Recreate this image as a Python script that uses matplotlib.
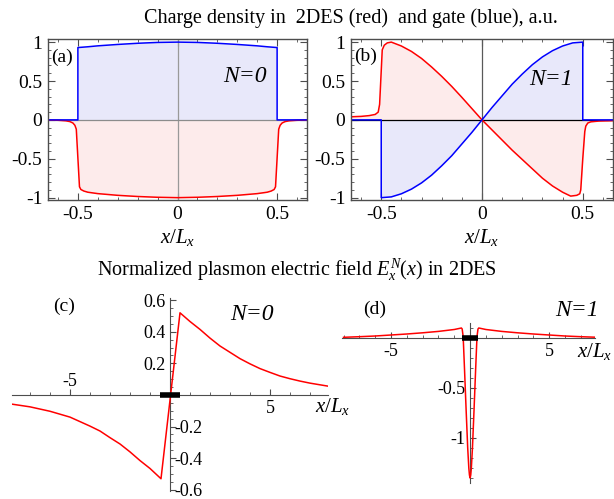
import matplotlib
matplotlib.use("Agg")
import matplotlib.pyplot as plt
from matplotlib.ticker import MultipleLocator
from matplotlib.transforms import blended_transform_factory

plt.rcParams['font.family'] = ['Liberation Serif', 'DejaVu Serif']
plt.rcParams['mathtext.fontset'] = 'custom'
plt.rcParams['mathtext.rm'] = 'Liberation Serif'
plt.rcParams['mathtext.it'] = 'Liberation Serif:italic'
plt.rcParams['axes.unicode_minus'] = False

# ---- panel (a): N=0 charge densities
a_x_gate = [-0.65, -0.5, -0.5, -0.45, -0.4, -0.3, -0.2, -0.1, 0.0,
            0.1, 0.2, 0.3, 0.4, 0.45, 0.5, 0.5, 0.65]
a_gate = [0, 0, 0.93, 0.94, 0.952, 0.97, 0.985, 0.996, 1.0,
          0.996, 0.985, 0.97, 0.952, 0.94, 0.93, 0, 0]
a_x_2des = [-0.65, -0.6, -0.56, -0.54, -0.525, -0.515, -0.508, -0.492, -0.485,
            -0.47, -0.45, -0.4, -0.3, -0.2, -0.1, 0.0,
            0.1, 0.2, 0.3, 0.4, 0.45, 0.47, 0.485, 0.492, 0.508, 0.515,
            0.525, 0.54, 0.56, 0.6, 0.65]
a_2des = [-0.002, -0.005, -0.012, -0.022, -0.04, -0.07, -0.12, -0.86, -0.895,
          -0.915, -0.93, -0.948, -0.97, -0.985, -0.995, -1.0,
          -0.995, -0.985, -0.97, -0.948, -0.93, -0.915, -0.895, -0.86, -0.12, -0.07,
          -0.04, -0.022, -0.012, -0.005, -0.002]

# ---- panel (b): N=1 charge densities
b_x_gate = [-0.65, -0.5, -0.5, -0.45, -0.4, -0.35, -0.3, -0.25, -0.2, -0.15, -0.1, -0.05, 0.0,
            0.05, 0.1, 0.15, 0.2, 0.25, 0.3, 0.35, 0.4, 0.45, 0.5, 0.5, 0.65]
b_gate = [0, 0, -1.0, -0.99, -0.95, -0.89, -0.81, -0.71, -0.59, -0.46, -0.31, -0.16, 0.0,
          0.16, 0.31, 0.46, 0.59, 0.71, 0.81, 0.89, 0.95, 0.99, 1.0, 0, 0]
b_x_2des = [-0.65, -0.6, -0.56, -0.53, -0.515, -0.508, -0.495, -0.485, -0.47, -0.45,
            -0.4, -0.35, -0.3, -0.25, -0.2, -0.15, -0.1, -0.05, 0.0,
            0.05, 0.1, 0.15, 0.2, 0.25, 0.3, 0.35, 0.4, 0.44, 0.47, 0.485, 0.49,
            0.5, 0.51, 0.515, 0.525, 0.54, 0.58, 0.65]
b_2des = [0.04, 0.045, 0.055, 0.07, 0.1, 0.2, 0.9, 0.96, 0.99, 1.0,
          0.95, 0.88, 0.79, 0.68, 0.56, 0.43, 0.29, 0.145, 0.0,
          -0.13, -0.26, -0.39, -0.51, -0.63, -0.75, -0.85, -0.93, -0.98, -0.97, -0.95, -0.9,
          -0.5, -0.15, -0.08, -0.04, -0.025, -0.015, -0.01]

frame_yticks = [-1, -0.5, 0, 0.5, 1]
frame_ylabels = ['-1', '-0.5', '0', '0.5', '1']
frame_xticks = [-0.5, 0, 0.5]
frame_xlabels = ['-0.5', '0', '0.5']

# ---- panel (c): N=0 field
c_x = [-7.9, -7, -6, -5, -4, -3.5, -3, -2.5, -2, -1.5, -1, -0.45,
       0.5, 1, 1.5, 2, 2.5, 3, 3.5, 4, 4.5, 5, 5.5, 6, 6.5, 7, 7.9]
c_field = [-0.058, -0.075, -0.103, -0.14, -0.197, -0.228, -0.27, -0.31, -0.36, -0.415, -0.465, -0.53,
           0.52, 0.465, 0.415, 0.36, 0.31, 0.27, 0.23, 0.197, 0.167, 0.143, 0.12, 0.103, 0.088, 0.075, 0.056]
c_yticks = [-0.6, -0.4, -0.2, 0.2, 0.4, 0.6]
c_ylabels = ['-0.6', '-0.4', '-0.2', '0.2', '0.4', '0.6']

# ---- panel (d): N=1 field
d_x = [-8, -7, -6, -5, -4, -3, -2, -1, -0.55, -0.5, -0.45, -0.42, -0.35, -0.25, -0.15, -0.08, -0.04, 0,
       0.04, 0.08, 0.15, 0.25, 0.35, 0.42, 0.45, 0.5, 0.55, 1, 2, 3, 4, 5, 6, 7, 7.9]
d_field = [0.007, 0.013, 0.02, 0.03, 0.04, 0.052, 0.066, 0.085, 0.1, 0.09, 0.03, -0.05, -0.32, -0.72, -1.1, -1.3, -1.37, -1.4,
           -1.37, -1.3, -1.1, -0.72, -0.32, -0.05, 0.03, 0.09, 0.1, 0.085, 0.066, 0.052, 0.04, 0.03, 0.02, 0.013, 0.008]
d_yticks = [-1, -0.5]
d_ylabels = ['-1', '-0.5']

field_xticks = [-5, 5]
field_xlabels = ['-5', '5']
gate_x = [-0.5, 0.5]
gate_y = [0, 0]

RED = '#ff0000'
BLUE = '#0000ff'
RED_FILL = '#fdebeb'
BLUE_FILL = '#e8e8fa'

fig = plt.figure(figsize=(6.14, 4.99), dpi=100)
W, H = 614, 499


def px_axes(l, t, r, b):
    return fig.add_axes([l / W, 1 - b / H, (r - l) / W, (b - t) / H])


def frame_panel(ax, xg, g, xr, r, vcol, hcol):
    ax.fill_between(xg, g, 0, color=BLUE_FILL, lw=0)
    ax.fill_between(xr, r, 0, color=RED_FILL, lw=0)
    ax.axvline(0, color=vcol, lw=0.9)
    ax.axhline(0, color=hcol, lw=0.9)
    ax.plot(xr, r, color=RED, lw=1.1)
    ax.plot(xg, g, color=BLUE, lw=1.1)
    ax.set_xlim(-0.65, 0.65)
    ax.set_ylim(-1.03, 1.04)
    ax.set_yticks(frame_yticks, frame_ylabels)
    ax.set_xticks(frame_xticks, frame_xlabels)
    ax.xaxis.set_minor_locator(MultipleLocator(0.1))
    ax.yaxis.set_minor_locator(MultipleLocator(0.1))
    ax.tick_params(which='both', direction='in', top=True, right=True,
                   labelsize=14, color='0.3', pad=4)
    ax.tick_params(which='major', length=5, width=0.8)
    ax.tick_params(which='minor', length=2.5, width=0.6)
    for s in ax.spines.values():
        s.set_color('0.3')
        s.set_linewidth(1.0)
    ax.set_xlabel(r'$x/L_x$', fontsize=15, labelpad=3)


ax_a = px_axes(48, 39, 307, 200)
frame_panel(ax_a, a_x_gate, a_gate, a_x_2des, a_2des, '0.6', '0.55')
ax_b = px_axes(351, 39, 613, 200)
frame_panel(ax_b, b_x_gate, b_gate, b_x_2des, b_2des, '0.35', 'black')


def field_panel(ax, x, y, xlim, ylim, yticks, ylabels, ymin_step, y_left_all):
    ax.plot(x, y, color=RED, lw=1.1, zorder=3)
    ax.plot(gate_x, gate_y, color='black', lw=4, solid_capstyle='butt', zorder=4)
    ax.set_xlim(*xlim)
    ax.set_ylim(*ylim)
    for side in ['left', 'right', 'bottom', 'top']:
        ax.spines[side].set_position(('data', 0))
        ax.spines[side].set_color('0.3')
    ax.spines['top'].set_visible(False)
    ax.spines['right'].set_visible(False)
    ax.set_xticks(field_xticks, field_xlabels)
    ax.set_yticks(yticks, ylabels)
    ax.xaxis.set_minor_locator(MultipleLocator(1))
    ax.yaxis.set_minor_locator(MultipleLocator(ymin_step))
    ax.tick_params(which='both', direction='in', top=False, right=False,
                   labelsize=13, color='0.3')
    ax.tick_params(which='major', length=4, width=0.8)
    ax.tick_params(which='minor', length=2.5, width=0.6)
    ax.patch.set_alpha(0)
    if not y_left_all:
        ax.tick_params(labeltop=True, labelright=True)
        for t, v in zip(ax.xaxis.get_major_ticks(), field_xticks):
            t.label1.set_visible(v > 0)
            t.label2.set_visible(v < 0)
        for t, v in zip(ax.yaxis.get_major_ticks(), yticks):
            t.label1.set_visible(v > 0)
            t.label2.set_visible(v < 0)


ax_c = px_axes(12, 297.8, 328, 490.6)
field_panel(ax_c, c_x, c_field, (-7.9, 7.9), (-0.605, 0.615), c_yticks, c_ylabels, 0.05, False)
tr = blended_transform_factory(ax_c.transAxes, ax_c.transData)
ax_c.text(1.015, -0.075, r'$x/L_x$', transform=tr, ha='center', va='center', fontsize=15)

ax_d = px_axes(342, 323, 595, 483)
field_panel(ax_d, d_x, d_field, (-8.1, 7.9), (-1.45, 0.15), d_yticks, d_ylabels, 0.1, True)
tr = blended_transform_factory(ax_d.transAxes, ax_d.transData)
ax_d.text(1.0, -0.14, r'$x/L_x$', transform=tr, ha='center', va='center', fontsize=15)

# texts
fig.text(351 / W, 1 - 18 / H, 'Charge density in  2DES (red)  and gate (blue), a.u.',
         ha='center', va='center', fontsize=14.5)
fig.text(297 / W, 1 - 270 / H, r'Normalized plasmon electric field $\mathit{E_x^N(x)}$ in 2DES',
         ha='center', va='center', fontsize=14.5)
fig.text(62 / W, 1 - 57 / H, '(a)', ha='center', va='center', fontsize=14)
fig.text(366 / W, 1 - 56 / H, '(b)', ha='center', va='center', fontsize=14)
fig.text(245 / W, 1 - 77 / H, 'N=0', ha='center', va='center', fontsize=17, style='italic')
fig.text(551 / W, 1 - 80 / H, 'N=1', ha='center', va='center', fontsize=17, style='italic')
fig.text(64 / W, 1 - 306 / H, '(c)', ha='center', va='center', fontsize=14)
fig.text(252 / W, 1 - 315 / H, 'N=0', ha='center', va='center', fontsize=17, style='italic')
fig.text(375 / W, 1 - 309 / H, '(d)', ha='center', va='center', fontsize=14)
fig.text(577 / W, 1 - 311 / H, 'N=1', ha='center', va='center', fontsize=17, style='italic')

fig.savefig('out.png', dpi=100)
